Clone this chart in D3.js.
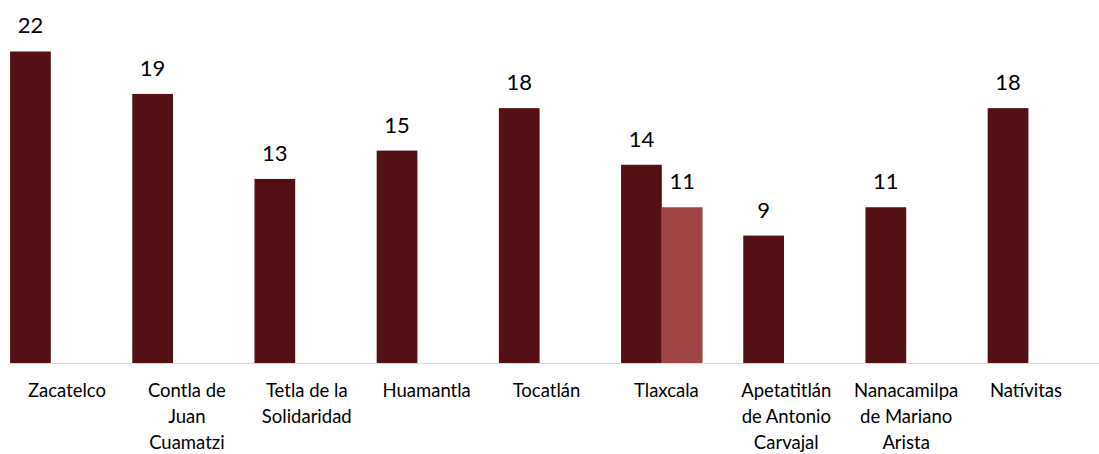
<!DOCTYPE html>
<html><head><meta charset="utf-8">
<script src="https://cdn.jsdelivr.net/npm/d3@7"></script>
<style>html,body{margin:0;padding:0;background:#fff;}svg{display:block;}</style>
</head><body><svg id="c" width="1099" height="454"></svg>
<script>
const categories = ["Zacatelco","Contla de Juan Cuamatzi","Tetla de la Solidaridad","Huamantla","Tocatlán","Tlaxcala","Apetatitlán de Antonio Carvajal","Nanacamilpa de Mariano Arista","Natívitas"];
const tickLabels = [["Zacatelco"],["Contla de","Juan","Cuamatzi"],["Tetla de la","Solidaridad"],["Huamantla"],["Tocatlán"],["Tlaxcala"],["Apetatitlán","de Antonio","Carvajal"],["Nanacamilpa","de Mariano","Arista"],["Natívitas"]];
const series1 = [22,19,13,15,18,14,9,11,18];
const series2 = [null,null,null,null,null,11,null,null,null];
const seriesNames = ["s1","s2"];
const colors = {s1:"#541115", s2:"#9e4545"};

const svg = d3.select("#c");
const baseY = 363, topY = 9;
const x0 = d3.scaleBand().domain(categories).range([-10.3, 1089.5]).paddingInner(0).paddingOuter(0);
const x1 = d3.scaleBand().domain(seriesNames).range([0, x0.bandwidth()]).paddingInner(0).paddingOuter(0.5);
const y = d3.scaleLinear().domain([0,25]).range([baseY, topY]);
const xLab = d3.scalePoint().domain(categories).range([67, 1026]);

const data = [];
categories.forEach((c,i)=>{
  if (series1[i]!=null) data.push({c, s:"s1", v:series1[i]});
  if (series2[i]!=null) data.push({c, s:"s2", v:series2[i]});
});

svg.append("line").attr("x1", 10).attr("x2", 1099).attr("y1", baseY+0.5).attr("y2", baseY+0.5)
  .attr("stroke","#d9d9d9").attr("stroke-width",1);

svg.selectAll("rect.bar").data(data).join("rect").attr("class","bar")
  .attr("x", d=>x0(d.c)+x1(d.s)).attr("width", x1.bandwidth())
  .attr("y", d=>y(d.v)).attr("height", d=>y(0)-y(d.v))
  .attr("fill", d=>colors[d.s]);

svg.selectAll("text.val").data(data).join("text").attr("class","val")
  .attr("x", d=>x0(d.c)+x1(d.s)+x1.bandwidth()/2).attr("y", d=>y(d.v)-18)
  .attr("text-anchor","middle").attr("font-family","Lato, sans-serif").attr("font-size",22).attr("fill","#000")
  .text(d=>d.v);

const lab = svg.selectAll("text.cat").data(categories).join("text").attr("class","cat")
  .attr("text-anchor","middle").attr("font-family","Lato, sans-serif").attr("font-size",18.5).attr("fill","#000")
  .attr("transform", d=>`translate(${xLab(d)},397)`);
lab.each(function(d,i){
  d3.select(this).selectAll("tspan").data(tickLabels[i]).join("tspan")
    .attr("x",0).attr("y",(t,j)=>j*26).text(t=>t);
});
</script></body></html>
